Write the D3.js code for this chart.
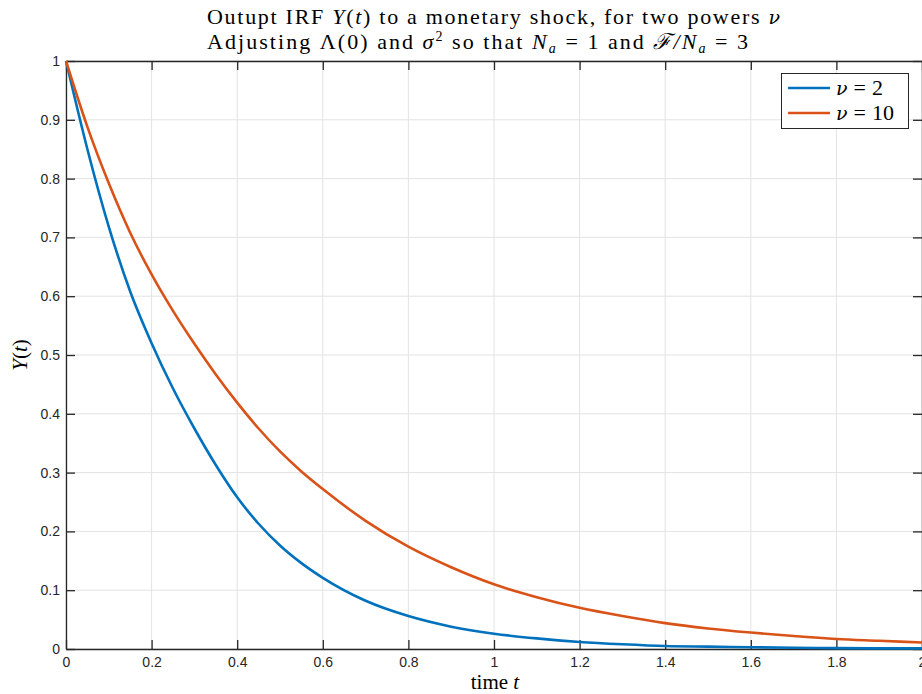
<!DOCTYPE html>
<html>
<head>
<meta charset="utf-8">
<script src="https://cdn.jsdelivr.net/npm/d3@7"></script>
<style>
html,body{margin:0;padding:0;background:#fff;overflow:hidden;}
svg{display:block;}
</style>
</head>
<body>
<svg id="chart" width="922" height="694"></svg>
<script>
// ---- data ----
const tValues = [0,0.05,0.1,0.15,0.2,0.25,0.3,0.35,0.4,0.45,0.5,0.55,0.6,0.7,0.8,0.9,1.0,1.1,1.2,1.3,1.4,1.5,1.6,1.7,1.8,1.9,2.0];
const yNu2  = [1.0,0.85,0.718,0.608,0.52,0.443,0.375,0.313,0.258,0.213,0.176,0.146,0.121,0.082,0.056,0.038,0.026,0.018,0.012,0.008,0.005,0.004,0.003,0.002,0.0015,0.001,0.001];
const yNu10 = [1.0,0.888,0.792,0.708,0.637,0.575,0.519,0.467,0.419,0.375,0.336,0.302,0.272,0.218,0.174,0.139,0.110,0.088,0.070,0.056,0.044,0.035,0.028,0.022,0.017,0.014,0.011];
const seriesNames = ["2","10"];
const xTicks = [0,0.2,0.4,0.6,0.8,1,1.2,1.4,1.6,1.8,2];
const yTicks = [0,0.1,0.2,0.3,0.4,0.5,0.6,0.7,0.8,0.9,1];
const colors = ["#0072BD","#D95319"];

const svg = d3.select("#chart");
const L = 66, R = 922, T = 61, B = 649;
const x = d3.scaleLinear().domain([0,2]).range([L,R]);
const y = d3.scaleLinear().domain([0,1]).range([B,T]);
const axisCol = "#262626";
const serif = "'Liberation Serif','DejaVu Serif',serif";
const greek = "'DejaVu Serif',serif";

// grid
const g = svg.append("g");
g.selectAll(".gx").data(xTicks).enter().append("line")
  .attr("x1",d=>x(d)).attr("x2",d=>x(d)).attr("y1",T).attr("y2",B)
  .attr("stroke","#e3e3e3").attr("stroke-width",1);
g.selectAll(".gy").data(yTicks).enter().append("line")
  .attr("y1",d=>y(d)).attr("y2",d=>y(d)).attr("x1",L).attr("x2",R)
  .attr("stroke","#e3e3e3").attr("stroke-width",1);

// axes (MATLAB box style, inward ticks)
const tickLen = 9;
const fontTick = "Helvetica, 'Liberation Sans', Arial, sans-serif";
const fmt = d=>d3.format("~g")(d);
const gx = svg.append("g").attr("transform",`translate(0,${B})`)
  .call(d3.axisBottom(x).tickValues(xTicks).tickSizeInner(-tickLen).tickSizeOuter(0).tickPadding(8).tickFormat(fmt));
const gy = svg.append("g").attr("transform",`translate(${L},0)`)
  .call(d3.axisLeft(y).tickValues(yTicks).tickSizeInner(-tickLen).tickSizeOuter(0).tickPadding(6).tickFormat(fmt));
const gxt = svg.append("g").attr("transform",`translate(0,${T})`)
  .call(d3.axisTop(x).tickValues(xTicks).tickSizeInner(-tickLen).tickSizeOuter(0).tickFormat(""));
const gyr = svg.append("g").attr("transform",`translate(${R},0)`)
  .call(d3.axisRight(y).tickValues(yTicks).tickSizeInner(-tickLen).tickSizeOuter(0).tickFormat(""));
[gx,gy,gxt,gyr].forEach(a=>{
  a.select(".domain").attr("stroke",axisCol).attr("stroke-width",1.3);
  a.selectAll(".tick line").attr("stroke",axisCol).attr("stroke-width",1.3);
  a.selectAll(".tick text").attr("fill",axisCol).style("font-family",fontTick).style("font-size","14px");
});

// lines
const line = d3.line().x((d,i)=>x(tValues[i])).y(d=>y(d)).curve(d3.curveMonotoneX);
[yNu2,yNu10].forEach((s,k)=>{
  svg.append("path").datum(s).attr("d",line).attr("fill","none")
    .attr("stroke",colors[k]).attr("stroke-width",2.6).attr("stroke-linejoin","round");
});

// title
const title = svg.append("g").style("font-family",serif).attr("fill","#000");
const t1 = title.append("text").attr("x",207).attr("y",24).style("font-size","22px")
  .attr("textLength",573).attr("lengthAdjust","spacing");
t1.append("tspan").text("Outupt IRF ");
t1.append("tspan").attr("font-style","italic").text("Y");
t1.append("tspan").text("(");
t1.append("tspan").attr("font-style","italic").text("t");
t1.append("tspan").text(") to a monetary shock, for two powers ");
t1.append("tspan").attr("font-style","italic").style("font-family",greek).style("font-size","19px").text("ν");
const t2 = title.append("text").attr("x",207).attr("y",49).style("font-size","22px")
  .attr("textLength",541).attr("lengthAdjust","spacing");
t2.append("tspan").text("Adjusting Λ(0) and ");
t2.append("tspan").attr("font-style","italic").text("σ");
t2.append("tspan").attr("dy",-8).style("font-size","14px").text("2");
t2.append("tspan").attr("dy",8).text(" so that ");
t2.append("tspan").attr("font-style","italic").text("N");
t2.append("tspan").attr("dy",4).attr("font-style","italic").style("font-size","14px").text("a");
t2.append("tspan").attr("dy",-4).text(" = 1 and ");
t2.append("tspan").attr("font-style","italic").text("ℱ/N");
t2.append("tspan").attr("dy",4).attr("font-style","italic").style("font-size","14px").text("a");
t2.append("tspan").attr("dy",-4).text(" = 3");

// axis labels
const xl = svg.append("text").attr("x",495).attr("y",689).attr("text-anchor","middle")
  .style("font-family",serif).style("font-size","21px");
xl.append("tspan").text("time ");
xl.append("tspan").attr("font-style","italic").text("t");
const yl = svg.append("text").attr("transform",`translate(27,${(T+B)/2}) rotate(-90)`).attr("text-anchor","middle")
  .style("font-family",serif).style("font-size","21px");
yl.append("tspan").attr("font-style","italic").text("Y");
yl.append("tspan").text("(");
yl.append("tspan").attr("font-style","italic").text("t");
yl.append("tspan").text(")");

// legend
const lg = svg.append("g");
lg.append("rect").attr("x",781.5).attr("y",73.5).attr("width",127).attr("height",55)
  .attr("fill","#fff").attr("stroke",axisCol).attr("stroke-width",1);
seriesNames.forEach((n,k)=>{
  const yy = 88 + k*25;
  lg.append("line").attr("x1",788).attr("x2",830).attr("y1",yy).attr("y2",yy)
    .attr("stroke",colors[k]).attr("stroke-width",2.6);
  const tx = lg.append("text").attr("x",836).attr("y",yy+7)
    .style("font-family",serif).style("font-size","22px");
  tx.append("tspan").attr("font-style","italic").style("font-family",greek).style("font-size","19px").text("ν");
  tx.append("tspan").attr("dx",6).text("=");
  tx.append("tspan").attr("dx",6).text(n);
});
</script>
</body>
</html>
